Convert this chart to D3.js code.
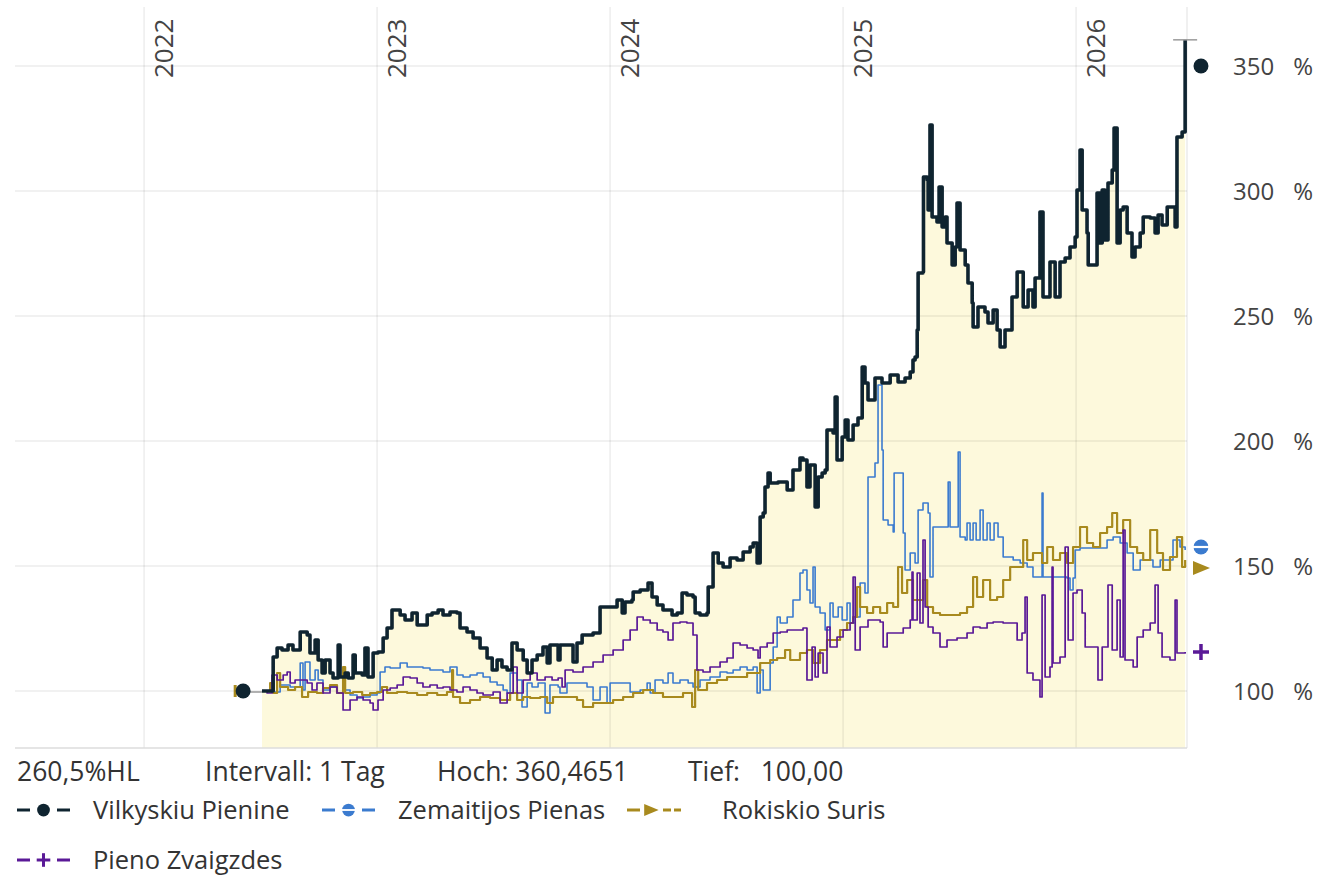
<!DOCTYPE html>
<html>
<head>
<meta charset="utf-8">
<script src="https://cdnjs.cloudflare.com/ajax/libs/d3/7.8.5/d3.min.js"></script>
<style>
  html, body { margin: 0; padding: 0; background: #fff; }
  svg { display: block; font-family: "Open Sans", sans-serif; }
</style>
</head>
<body>
<div id="chart"></div>
<script>
// --- data (decimal year, percent) ---
var years = [2022, 2023, 2024, 2025, 2026];
var yTicks = [100, 150, 200, 250, 300, 350];
var seriesNames = ["Vilkyskiu Pienine", "Zemaitijos Pienas", "Rokiskio Suris", "Pieno Zvaigzdes"];
var statsLabels = ["260,5%HL", "Intervall: 1 Tag", "Hoch: 360,4651", "Tief:   100,00"];
var highValue = 360.4651;
var lastValues = [350, 157.6, 149.2, 115.6];

var vilkyskiu = [
[2022.506,100],[2022.554,113.6],[2022.571,117.2],[2022.592,116.4],[2022.618,118.4],[2022.639,116.4],[2022.670,123.6],[2022.700,122.4],[2022.712,115.2],[2022.734,120.4],[2022.747,112.4],[2022.764,107.2],[2022.777,112.4],[2022.798,107.2],[2022.811,105.2],[2022.833,118.4],[2022.841,105.6],[2022.863,107.2],[2022.876,105.2],[2022.897,114.4],[2022.906,107.2],[2022.936,106.4],[2022.948,117.2],[2022.961,105.6],[2022.983,115.2],
[2023.004,115.6],[2023.026,121.2],[2023.043,125.2],[2023.064,132.4],[2023.086,132.4],[2023.099,130.4],[2023.120,128.4],[2023.150,131.2],[2023.172,126.4],[2023.193,126.4],[2023.215,130.4],[2023.236,131.2],[2023.262,132.4],[2023.283,130.4],[2023.313,131.6],[2023.343,131.2],[2023.356,125.2],[2023.386,123.6],[2023.412,121.2],[2023.442,117.2],[2023.472,113.2],[2023.494,108.4],[2023.515,112.4],[2023.536,109.6],[2023.558,108.4],[2023.579,119.2],[2023.601,116.4],[2023.627,112.4],[2023.644,107.2],[2023.665,112.4],[2023.687,114.4],[2023.712,117.6],[2023.730,111.2],[2023.742,118.4],[2023.777,112.4],[2023.785,118.4],[2023.815,118.4],[2023.841,111.6],[2023.858,119.2],[2023.880,122.4],[2023.927,123.2],[2023.957,133.6],
[2024.000,133.6],[2024.030,136.4],[2024.052,131.2],[2024.064,135.6],[2024.094,136.4],[2024.099,139.6],[2024.129,140.4],[2024.163,143.2],[2024.180,137.6],[2024.202,134.4],[2024.227,132.4],[2024.266,130.4],[2024.288,131.2],[2024.309,139.2],[2024.330,138.4],[2024.356,137.6],[2024.365,131.2],[2024.386,130.4],[2024.416,131.2],[2024.421,141.6],[2024.442,155.2],[2024.464,151.2],[2024.485,149.6],[2024.515,153.2],[2024.545,152.4],[2024.571,155.6],[2024.601,157.6],[2024.614,159.2],[2024.631,151.2],[2024.644,169.6],[2024.657,171.2],[2024.665,181.6],[2024.678,187.2],[2024.687,183.2],[2024.721,183.6],[2024.760,180.4],[2024.785,188.4],[2024.815,193.2],[2024.828,192.4],[2024.845,181.6],[2024.858,190.4],[2024.880,173.6],[2024.893,185.6],[2024.910,187.2],[2024.923,188.4],[2024.931,204.4],[2024.957,203.2],[2024.966,217.6],[2024.974,192.4],[2024.996,201.6],
[2025.009,208.4],[2025.021,200.4],[2025.043,206.4],[2025.064,209.2],[2025.082,229.6],[2025.094,223.2],[2025.107,216.4],[2025.137,225.2],[2025.167,223.2],[2025.202,226.4],[2025.236,223.6],[2025.266,225.2],[2025.288,227.6],[2025.300,232.4],[2025.309,233.6],[2025.318,244.4],[2025.322,267.2],[2025.343,267.6],[2025.345,305.6],[2025.361,304.4],[2025.365,292.4],[2025.373,326.4],[2025.382,289.6],[2025.403,287.6],[2025.412,301.6],[2025.425,285.6],[2025.438,289.6],[2025.446,279.2],[2025.468,270.4],[2025.481,277.6],[2025.489,295.2],[2025.502,276.4],[2025.524,270.4],[2025.536,263.2],[2025.554,255.2],[2025.558,245.6],[2025.579,253.6],[2025.609,251.6],[2025.622,247.2],[2025.644,252.4],[2025.661,244.4],[2025.674,237.6],[2025.695,244.4],[2025.725,257.6],[2025.747,267.6],[2025.773,253.6],[2025.794,260.4],[2025.815,253.6],[2025.824,265.2],[2025.845,291.6],[2025.858,257.6],[2025.888,271.6],[2025.910,257.6],[2025.931,271.6],[2025.953,273.2],[2025.974,277.6],[2025.996,281.6],
[2026.004,300.4],[2026.017,316.4],[2026.026,292.4],[2026.047,283.2],[2026.052,270.4],[2026.073,270.4],[2026.090,299.2],[2026.103,279.2],[2026.112,300.4],[2026.124,280.4],[2026.137,303.2],[2026.155,308.4],[2026.163,325.2],[2026.176,279.2],[2026.189,292.4],[2026.202,293.6],[2026.219,283.2],[2026.240,273.6],[2026.253,277.6],[2026.275,283.2],[2026.288,289.6],[2026.318,289.2],[2026.339,283.2],[2026.352,290.4],[2026.369,286.4],[2026.391,293.6],[2026.412,293.6],[2026.425,285.6],[2026.433,321.6],[2026.455,323.6],[2026.468,360.4651]
];

var zemaitijos = [
[2022.506,100],[2022.554,99.6],[2022.584,102.4],[2022.627,101.6],[2022.670,111.2],[2022.682,100.4],[2022.691,111.6],[2022.712,104.4],[2022.734,108.4],[2022.747,104.4],[2022.768,100.4],[2022.798,101.6],[2022.828,99.2],[2022.854,100.4],[2022.884,98.4],[2022.914,97.2],[2022.940,97.6],[2022.970,98.4],
[2023.000,99.2],[2023.013,107.6],[2023.034,109.6],[2023.056,109.2],[2023.099,111.2],[2023.129,109.6],[2023.172,109.6],[2023.197,109.2],[2023.227,108.4],[2023.258,108.4],[2023.283,107.6],[2023.313,109.6],[2023.343,106.4],[2023.369,105.6],[2023.399,106.4],[2023.429,107.2],[2023.455,105.6],[2023.485,103.6],[2023.515,102.4],[2023.541,100.4],[2023.558,99.2],[2023.571,107.2],[2023.601,104.4],[2023.622,93.6],[2023.644,103.2],[2023.665,101.6],[2023.691,103.2],[2023.721,91.2],[2023.742,102.4],[2023.777,101.6],[2023.785,99.2],[2023.815,103.2],[2023.858,103.2],[2023.901,101.6],[2023.927,96.4],[2023.957,101.6],[2023.987,95.2],
[2024.000,103.2],[2024.043,103.2],[2024.086,99.6],[2024.129,100.4],[2024.159,103.2],[2024.172,99.2],[2024.193,104.4],[2024.227,103.2],[2024.249,107.2],[2024.270,103.2],[2024.300,104.4],[2024.335,103.2],[2024.356,101.6],[2024.386,104.4],[2024.429,105.6],[2024.472,107.6],[2024.502,107.2],[2024.528,108.4],[2024.558,109.6],[2024.588,108.4],[2024.614,109.6],[2024.631,99.2],[2024.644,108.4],[2024.657,100.4],[2024.687,111.2],[2024.700,117.6],[2024.717,129.6],[2024.730,127.2],[2024.760,129.6],[2024.785,136.4],[2024.815,147.2],[2024.828,148.4],[2024.845,140.4],[2024.858,135.2],[2024.871,149.6],[2024.880,133.6],[2024.901,131.2],[2024.923,124.4],[2024.944,135.2],[2024.957,129.6],[2024.979,133.6],[2024.996,128.4],
[2025.017,135.2],[2025.030,127.2],[2025.052,129.6],[2025.073,143.2],[2025.094,139.2],[2025.107,185.6],[2025.124,185.6],[2025.137,191.2],[2025.150,222.4],[2025.167,196.4],[2025.172,168.4],[2025.193,166.4],[2025.215,163.6],[2025.219,187.2],[2025.253,187.2],[2025.258,163.2],[2025.266,148.4],[2025.288,155.2],[2025.309,151.2],[2025.322,172.4],[2025.343,175.2],[2025.365,171.2],[2025.373,145.6],[2025.386,165.6],[2025.446,165.6],[2025.451,183.6],[2025.459,165.6],[2025.489,165.6],[2025.494,195.6],[2025.502,161.6],[2025.524,160.4],[2025.532,167.2],[2025.545,160.4],[2025.558,167.2],[2025.571,160.4],[2025.588,172.4],[2025.601,160.4],[2025.618,167.2],[2025.631,160.4],[2025.648,167.2],[2025.665,161.6],[2025.687,153.6],[2025.730,152.4],[2025.760,151.2],[2025.790,149.6],[2025.815,145.6],[2025.845,145.6],[2025.854,179.2],[2025.858,145.6],[2025.901,145.6],[2025.961,145.2],[2025.974,140.4],[2025.987,145.2],[2025.996,156.4],
[2026.017,157.2],[2026.073,157.2],[2026.133,160.4],[2026.159,161.6],[2026.189,159.2],[2026.219,155.2],[2026.245,148.4],[2026.275,152.4],[2026.305,152.4],[2026.330,149.6],[2026.361,152.4],[2026.416,160.4],[2026.446,157.6],[2026.468,156.4]
];

var rokiskio = [
[2022.506,100],[2022.541,103.2],[2022.554,99.2],[2022.571,107.2],[2022.584,101.6],[2022.618,100.4],[2022.648,101.6],[2022.678,97.6],[2022.704,99.6],[2022.742,99.2],[2022.768,101.2],[2022.798,102.4],[2022.828,99.2],[2022.854,109.6],[2022.863,99.2],[2022.897,99.6],[2022.936,98.4],[2022.970,99.2],
[2023.000,99.6],[2023.021,101.6],[2023.043,99.2],[2023.086,99.6],[2023.129,99.2],[2023.172,98.4],[2023.215,99.2],[2023.258,98.4],[2023.300,99.6],[2023.322,108.4],[2023.326,97.6],[2023.356,95.2],[2023.399,96.4],[2023.442,97.6],[2023.485,97.2],[2023.528,96.4],[2023.571,99.2],[2023.601,96.4],[2023.627,97.6],[2023.657,97.2],[2023.700,97.6],[2023.730,95.2],[2023.755,97.6],[2023.815,97.6],[2023.858,96.4],[2023.884,93.6],[2023.927,95.2],[2023.970,95.2],
[2024.013,96.4],[2024.056,97.6],[2024.099,99.2],[2024.142,100.4],[2024.185,99.2],[2024.227,97.6],[2024.270,97.6],[2024.313,99.2],[2024.352,93.6],[2024.365,108.4],[2024.378,100.4],[2024.416,103.2],[2024.459,104.4],[2024.502,105.6],[2024.545,105.6],[2024.588,107.2],[2024.614,107.2],[2024.644,111.2],[2024.687,112.4],[2024.717,113.2],[2024.751,116.4],[2024.773,112.4],[2024.815,115.2],[2024.845,116.4],[2024.871,111.2],[2024.901,116.4],[2024.931,120.4],[2024.957,120.4],[2024.987,124.4],
[2025.017,127.2],[2025.043,129.6],[2025.060,141.6],[2025.073,133.6],[2025.103,131.2],[2025.129,133.6],[2025.159,131.2],[2025.189,135.2],[2025.215,133.6],[2025.236,149.6],[2025.253,139.2],[2025.275,144.4],[2025.300,136.4],[2025.343,144.4],[2025.361,133.6],[2025.386,131.2],[2025.416,130.4],[2025.459,130.4],[2025.502,131.2],[2025.532,133.6],[2025.558,145.6],[2025.575,137.6],[2025.601,144.4],[2025.631,136.4],[2025.661,137.6],[2025.687,144.4],[2025.717,149.6],[2025.747,149.6],[2025.773,160.4],[2025.790,152.4],[2025.815,155.2],[2025.854,151.2],[2025.876,157.6],[2025.901,152.4],[2025.931,155.2],[2025.961,151.2],[2025.987,157.6],
[2026.017,165.6],[2026.047,159.2],[2026.073,157.6],[2026.103,163.2],[2026.133,165.6],[2026.155,171.2],[2026.176,163.2],[2026.202,168.4],[2026.232,157.6],[2026.262,155.2],[2026.288,152.4],[2026.318,164.4],[2026.348,155.2],[2026.373,148.4],[2026.403,153.6],[2026.433,161.6],[2026.455,149.6],[2026.468,152.4]
];

var pienoZvaigzdes = [
[2022.506,100],[2022.528,99.2],[2022.549,106.4],[2022.571,104.4],[2022.597,106.4],[2022.614,107.6],[2022.627,103.2],[2022.648,104.4],[2022.678,104.4],[2022.700,103.2],[2022.721,100.4],[2022.742,103.2],[2022.768,99.2],[2022.798,101.6],[2022.828,99.2],[2022.854,92.4],[2022.884,96.4],[2022.914,97.6],[2022.940,96.4],[2022.970,95.2],[2022.983,92.4],
[2023.004,96.4],[2023.026,100.4],[2023.056,101.2],[2023.086,102.4],[2023.112,105.6],[2023.142,105.2],[2023.172,103.2],[2023.197,101.6],[2023.227,102.4],[2023.258,101.2],[2023.283,101.6],[2023.313,100.4],[2023.343,99.6],[2023.369,101.6],[2023.399,100.4],[2023.429,99.2],[2023.455,98.4],[2023.498,99.6],[2023.528,95.2],[2023.558,99.2],[2023.584,109.6],[2023.601,99.2],[2023.627,104.4],[2023.657,107.2],[2023.687,104.4],[2023.721,105.6],[2023.751,104.4],[2023.777,105.2],[2023.794,101.6],[2023.807,108.4],[2023.841,107.6],[2023.884,109.6],[2023.927,111.6],[2023.970,114.4],
[2024.013,116.4],[2024.056,120.4],[2024.086,124.4],[2024.116,129.6],[2024.142,128.4],[2024.172,127.2],[2024.202,124.4],[2024.227,123.6],[2024.249,120.4],[2024.270,127.2],[2024.300,127.6],[2024.330,127.2],[2024.356,122.4],[2024.373,108.4],[2024.399,107.6],[2024.429,109.6],[2024.472,111.6],[2024.502,113.2],[2024.528,119.2],[2024.558,118.4],[2024.588,117.2],[2024.614,116.4],[2024.635,113.2],[2024.644,117.6],[2024.674,119.2],[2024.700,123.2],[2024.730,123.6],[2024.760,124.4],[2024.803,124.4],[2024.828,125.2],[2024.845,104.4],[2024.867,117.6],[2024.880,105.6],[2024.893,115.2],[2024.914,107.2],[2024.931,125.6],[2024.944,117.6],[2024.974,121.6],
[2025.000,124.4],[2025.030,127.2],[2025.043,145.6],[2025.052,116.4],[2025.073,125.6],[2025.107,128.4],[2025.159,127.6],[2025.172,117.6],[2025.189,123.2],[2025.232,123.2],[2025.258,125.2],[2025.288,128.4],[2025.296,147.6],[2025.300,128.4],[2025.318,147.2],[2025.330,127.2],[2025.343,160.4],[2025.352,133.6],[2025.365,125.6],[2025.386,123.2],[2025.416,117.6],[2025.446,120.4],[2025.489,121.2],[2025.532,123.2],[2025.558,125.6],[2025.588,125.2],[2025.618,127.2],[2025.644,127.6],[2025.687,127.2],[2025.730,127.2],[2025.747,120.4],[2025.768,123.2],[2025.781,137.6],[2025.790,107.2],[2025.815,104.4],[2025.845,97.6],[2025.854,138.4],[2025.867,105.6],[2025.888,109.6],[2025.897,149.6],[2025.901,111.2],[2025.931,113.6],[2025.953,157.6],[2025.966,120.4],[2025.987,139.2],
[2026.004,140.4],[2026.026,131.2],[2026.039,117.6],[2026.073,117.6],[2026.094,104.4],[2026.112,117.6],[2026.137,142.4],[2026.155,116.4],[2026.176,136.4],[2026.189,113.6],[2026.202,164.4],[2026.210,112.4],[2026.245,109.6],[2026.262,121.6],[2026.288,124.4],[2026.318,127.2],[2026.339,142.4],[2026.352,123.2],[2026.369,113.6],[2026.403,112.4],[2026.425,136.4],[2026.433,115.2],[2026.468,115.6]
];

var allSeries = [vilkyskiu, zemaitijos, rokiskio, pienoZvaigzdes];

// --- styles ---
var colors = ["#0f2430", "#3b7bcf", "#a88a1e", "#5a1997"];
var widths = [3.6, 1.6, 2.2, 1.7];
var markerTypes = ["circle", "split", "triangle", "plus"];

var W = 1319, H = 875;
var pLeft = 15, pRight = 1187, pTop = 7, pBottom = 748;

var svg = d3.select("#chart").append("svg")
    .attr("width", W)
    .attr("height", H);

var x = d3.scaleLinear().domain([2021.446, 2026.476]).range([pLeft, pRight]);
var y = d3.scaleLinear().domain([77.2, 373.6]).range([pBottom, pTop]);

// area under the main series
var area = d3.area()
    .curve(d3.curveStepAfter)
    .x(function(d) { return x(d[0]); })
    .y0(pBottom)
    .y1(function(d) { return y(d[1]); });
svg.append("path")
    .datum(vilkyskiu)
    .attr("d", area)
    .attr("fill", "#fdf9dc");

// grid
svg.append("g").selectAll("line")
    .data(yTicks)
    .enter().append("line")
    .attr("x1", pLeft).attr("x2", pRight)
    .attr("y1", function(d) { return y(d); })
    .attr("y2", function(d) { return y(d); })
    .attr("stroke", "rgba(0,0,0,0.075)")
    .attr("stroke-width", 1.5);

svg.append("g").selectAll("line")
    .data(years)
    .enter().append("line")
    .attr("x1", function(d) { return x(d); })
    .attr("x2", function(d) { return x(d); })
    .attr("y1", pTop).attr("y2", pBottom)
    .attr("stroke", "rgba(0,0,0,0.075)")
    .attr("stroke-width", 1.5);

svg.append("line")
    .attr("x1", pRight).attr("x2", pRight)
    .attr("y1", pTop).attr("y2", pBottom)
    .attr("stroke", "rgba(0,0,0,0.08)")
    .attr("stroke-width", 1.5);
svg.append("line")
    .attr("x1", pLeft).attr("x2", pRight)
    .attr("y1", pBottom).attr("y2", pBottom)
    .attr("stroke", "#dcdcdc")
    .attr("stroke-width", 1.5);

// y labels: number + percent sign
var yLab = svg.append("g").selectAll("g")
    .data(yTicks)
    .enter().append("g");
yLab.append("text")
    .attr("x", 1233)
    .attr("y", function(d) { return y(d); })
    .attr("dy", "0.36em")
    .attr("font-size", 24)
    .attr("fill", "#444")
    .text(function(d) { return d; });
yLab.append("text")
    .attr("x", 1313)
    .attr("y", function(d) { return y(d); })
    .attr("dy", "0.36em")
    .attr("text-anchor", "end")
    .attr("font-size", 24)
    .attr("fill", "#444")
    .text("%");

// year labels
svg.append("g").selectAll("text")
    .data(years)
    .enter().append("text")
    .attr("transform", function(d) { return "translate(" + (x(d) + 29) + ",78) rotate(-90)"; })
    .attr("font-size", 26)
    .attr("fill", "#444")
    .text(function(d) { return d; });

// lines
var line = d3.line()
    .curve(d3.curveStepAfter)
    .x(function(d) { return x(d[0]); })
    .y(function(d) { return y(d[1]); });

var drawOrder = [1, 2, 3, 0];
drawOrder.forEach(function(i) {
    svg.append("path")
        .datum(allSeries[i])
        .attr("d", line)
        .attr("fill", "none")
        .attr("stroke", colors[i])
        .attr("stroke-width", widths[i])
        .attr("stroke-linejoin", "round");
});

// start markers
var first = vilkyskiu[0];
svg.append("line")
    .attr("x1", x(first[0] - 0.081)).attr("x2", x(first[0]))
    .attr("y1", y(first[1]) + 1).attr("y2", y(first[1]) + 1)
    .attr("stroke", "#999").attr("stroke-width", 1.5);
svg.append("line")
    .attr("x1", x(first[0] - 0.115)).attr("x2", x(first[0] - 0.115))
    .attr("y1", y(first[1]) - 6).attr("y2", y(first[1]) + 6)
    .attr("stroke", colors[2]).attr("stroke-width", 3);
svg.append("circle")
    .attr("cx", x(first[0] - 0.081)).attr("cy", y(first[1]))
    .attr("r", 7.5).attr("fill", colors[0]);

// high marker
var lastT = vilkyskiu[vilkyskiu.length - 1][0];
svg.append("line")
    .attr("x1", x(lastT) - 12).attr("x2", x(lastT) + 12)
    .attr("y1", y(highValue)).attr("y2", y(highValue))
    .attr("stroke", "#9a9a9a").attr("stroke-width", 1.5);

function drawMarker(g, type, cx, cy, color, s) {
    if (type === "circle") {
        g.append("circle").attr("cx", cx).attr("cy", cy).attr("r", 7.5 * s).attr("fill", color);
    } else if (type === "split") {
        g.append("circle").attr("cx", cx).attr("cy", cy).attr("r", 7.5 * s).attr("fill", color);
        g.append("line").attr("x1", cx - 8 * s).attr("x2", cx + 8 * s)
            .attr("y1", cy).attr("y2", cy).attr("stroke", "#fff").attr("stroke-width", 2.2 * s);
    } else if (type === "triangle") {
        g.append("path")
            .attr("d", "M" + (cx - 8 * s) + "," + (cy - 7 * s) + "L" + (cx + 9 * s) + "," + cy + "L" + (cx - 8 * s) + "," + (cy + 7 * s) + "Z")
            .attr("fill", color);
    } else {
        g.append("line").attr("x1", cx - 8 * s).attr("x2", cx + 8 * s).attr("y1", cy).attr("y2", cy)
            .attr("stroke", color).attr("stroke-width", 3.5 * s);
        g.append("line").attr("x1", cx).attr("x2", cx).attr("y1", cy - 8 * s).attr("y2", cy + 8 * s)
            .attr("stroke", color).attr("stroke-width", 3.5 * s);
    }
}

// end markers
var endG = svg.append("g");
lastValues.forEach(function(v, i) {
    drawMarker(endG, markerTypes[i], x(2026.536), y(v), colors[i], 1);
});

// stats row
var statsX = [17, 205, 437, 688];
svg.append("g").selectAll("text")
    .data(statsLabels)
    .enter().append("text")
    .attr("x", function(d, i) { return statsX[i]; })
    .attr("y", 781)
    .attr("font-size", 26.5)
    .attr("fill", "#333")
    .style("white-space", "pre")
    .text(function(d) { return d; });

// legend
var legPos = [[17, 810], [322, 810], [627, 810], [17, 860]];
seriesNames.forEach(function(name, i) {
    var g = svg.append("g").attr("transform", "translate(" + legPos[i][0] + "," + legPos[i][1] + ")");
    g.append("line").attr("x1", 0).attr("x2", 13).attr("y1", 0).attr("y2", 0)
        .attr("stroke", colors[i]).attr("stroke-width", 3);
    if (i === 2) {
        g.append("line").attr("x1", 36).attr("x2", 44).attr("y1", 0).attr("y2", 0)
            .attr("stroke", colors[i]).attr("stroke-width", 3);
        g.append("line").attr("x1", 47).attr("x2", 54).attr("y1", 0).attr("y2", 0)
            .attr("stroke", colors[i]).attr("stroke-width", 3);
    } else {
        g.append("line").attr("x1", 40).attr("x2", 53).attr("y1", 0).attr("y2", 0)
            .attr("stroke", colors[i]).attr("stroke-width", 3);
    }
    drawMarker(g, markerTypes[i], i === 2 ? 24 : 26.5, 0, colors[i], 0.85);
    g.append("text")
        .attr("x", i === 2 ? 95 : 76)
        .attr("y", 0)
        .attr("dy", "0.36em")
        .attr("font-size", 25.5)
        .attr("fill", "#333")
        .text(name);
});
</script>
</body>
</html>
